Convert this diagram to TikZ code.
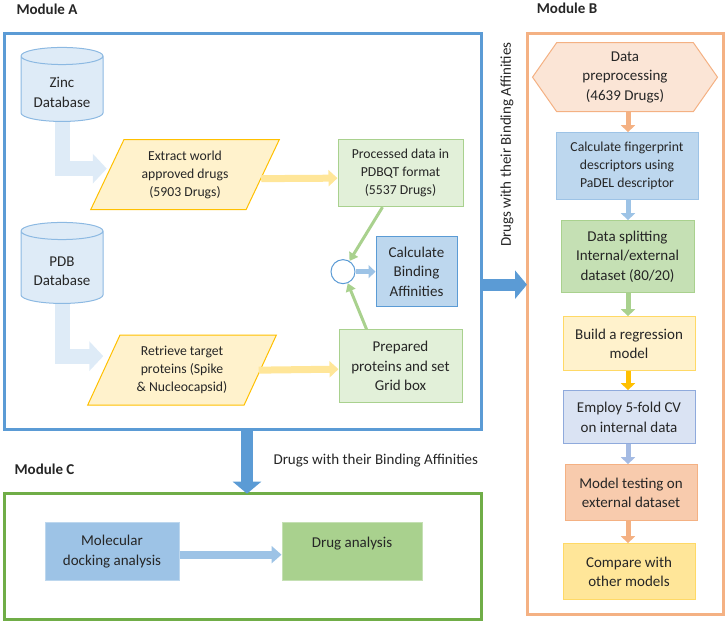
\documentclass[tikz,border=0pt]{standalone}
\usepackage{fontspec}
\setmainfont{Carlito}
\usetikzlibrary{shapes.geometric, shapes.symbols, arrows.meta, positioning}
\definecolor{modblue}{HTML}{5B9BD5}
\definecolor{modorange}{HTML}{F4B183}
\definecolor{modgreen}{HTML}{70AD47}
\definecolor{paleblue}{HTML}{DEEBF7}
\definecolor{lightblue}{HTML}{BDD7EE}
\definecolor{midblue}{HTML}{9DC3E6}
\definecolor{greyblue}{HTML}{DAE3F3}
\definecolor{slateblue}{HTML}{8FAADC}
\definecolor{palegreen}{HTML}{E2F0D9}
\definecolor{lightgreen}{HTML}{C5E0B4}
\definecolor{midgreen}{HTML}{A9D18E}
\definecolor{paleyellow}{HTML}{FFF2CC}
\definecolor{lightyellow}{HTML}{FFE699}
\definecolor{midyellow}{HTML}{FFD966}
\definecolor{goldyellow}{HTML}{FFC000}
\definecolor{paleorange}{HTML}{FBE5D6}
\definecolor{lightorange}{HTML}{F8CBAD}
\definecolor{textdark}{HTML}{262626}
\newcommand{\bodyfont}{\fontsize{15}{19.5}\selectfont}
\newcommand{\smallbody}{\fontsize{13.7}{18}\selectfont}

\begin{document}
\begin{tikzpicture}[
  x=1pt, y=-1pt,
  frame/.style={
    rectangle, draw, line width=3pt,
    inner sep=0pt, outer sep=0pt
  },
  modlabel/.style={
    font=\bodyfont\bfseries, text=textdark
  },
  database/.style={
    cylinder, shape border rotate=90, aspect=0.27,
    draw=modblue!70, fill=paleblue, line width=1pt,
    minimum width=82pt, align=center,
    font=\bodyfont, text=textdark
  },
  slanted/.style={
    trapezium, trapezium left angle=65, trapezium right angle=115,
    trapezium stretches=true,
    draw=goldyellow, fill=paleyellow, line width=1pt,
    minimum width=189pt, minimum height=70pt,
    align=center, font=\smallbody, text=textdark
  },
  stepbox/.style={
    rectangle, draw, line width=1pt, inner sep=2pt,
    align=center, font=\bodyfont, text=textdark
  },
  blockarrow/.style={
    line width=15pt, paleblue,
    -{Triangle[width=29pt, length=14pt]}
  },
  feedarrow/.style={
    line width=7pt, lightyellow,
    -{Triangle[width=16pt, length=9pt]}
  },
  joinarrow/.style={
    line width=3pt, midgreen,
    -{Triangle[width=10pt, length=8pt]}
  },
  bigarrow/.style={
    line width=12pt, modblue,
    -{Triangle[width=28pt, length=12pt]}
  },
  chain/.style={
    line width=5pt,
    -{Triangle[width=14pt, length=7pt]}
  }
]
  % frames and titles
  \node[frame, draw=modblue, minimum width=477pt, minimum height=396pt] (frameA) at (242.5,230) {};
  \node[frame, draw=modorange, minimum width=196pt, minimum height=581pt] (frameB) at (625,322.5) {};
  \node[frame, draw=modgreen, minimum width=477pt, minimum height=126pt] (frameC) at (242.5,555) {};
  \node[modlabel] (labelA) at (47,8) {Module A};
  \node[modlabel] (labelB) at (567,7) {Module B};
  \node[modlabel] (labelC) at (44.5,468) {Module C};

  % Module A
  \node[database, minimum height=74pt] (zinc) at (62,89) {\mbox{}\\[-6pt]Zinc\\Database};
  \node[database, minimum height=81pt] (pdb) at (62,267.5) {\mbox{}\\[-6pt]PDB\\Database};
  \node[slanted] (extract) at (185,173) {Extract world\\approved drugs\\(5903 Drugs)};
  \node[slanted] (retrieve) at (182,368.5) {Retrieve target\\proteins (Spike\\\& Nucleocapsid)};
  \node[stepbox, draw=midgreen, fill=palegreen, font=\smallbody,
        minimum width=125pt, minimum height=67pt] (processed) at (400.5,171.5)
        {Processed data in\\PDBQT format\\(5537 Drugs)};
  \node[stepbox, draw=midgreen, fill=palegreen,
        minimum width=123pt, minimum height=73pt] (prepared) at (400.5,364.5)
        {Prepared\\proteins and set\\Grid box};
  \node[circle, draw=modblue, fill=white, line width=1pt, minimum size=24pt] (join) at (343,270) {};
  \node[stepbox, draw=modblue, fill=lightblue,
        minimum width=81pt, minimum height=70pt] (calcba) at (416.5,270)
        {Calculate\\Binding\\Affinities};

  \draw[blockarrow] (zinc.south) |- ([yshift=6pt]extract.west);
  \draw[blockarrow] (pdb.south) |- ([yshift=14pt]retrieve.west);
  \draw[feedarrow] ([xshift=-2pt,yshift=-4pt]extract.east) -- ([yshift=-5pt]processed.west);
  \draw[feedarrow] ([xshift=-2pt]retrieve.east) -- ([yshift=-3pt]prepared.west);
  \draw[joinarrow] ([xshift=-18pt]processed.south) -- (join);
  \draw[joinarrow] ([xshift=-34pt]prepared.north) -- (join);
  \draw[line width=5pt, midblue, -{Triangle[width=13pt, length=7pt]}] (join) -- (calcba);

  % Module B
  \node[signal, signal to=east and west, signal pointer angle=110,
        draw=modorange, fill=paleorange, line width=1pt,
        minimum width=185pt, minimum height=69pt,
        align=center, font=\bodyfont, text=textdark] (prep) at (625,75.5)
        {Data\\preprocessing\\(4639 Drugs)};
  \node[stepbox, draw=midblue, fill=lightblue, font=\smallbody,
        minimum width=142pt, minimum height=67pt] (finger) at (627,164.5)
        {Calculate fingerprint\\descriptors using\\PaDEL descriptor};
  \node[stepbox, draw=midgreen, fill=lightgreen,
        minimum width=133pt, minimum height=72pt] (split) at (627.5,255)
        {Data splitting\\Internal/external\\dataset (80/20)};
  \node[stepbox, draw=midyellow, fill=paleyellow,
        minimum width=132pt, minimum height=54pt] (regress) at (629,342)
        {Build a regression\\model};
  \node[stepbox, draw=slateblue, fill=greyblue,
        minimum width=132pt, minimum height=53pt] (employ) at (629,415.5)
        {Employ 5-fold CV\\on internal data};
  \node[stepbox, draw=modorange, fill=lightorange,
        minimum width=132pt, minimum height=56pt] (testing) at (631,491)
        {Model testing on\\external dataset};
  \node[stepbox, draw=midyellow, fill=lightyellow,
        minimum width=132pt, minimum height=56pt] (compare) at (629,570)
        {Compare with\\other models};

  \draw[chain, modorange] (prep.south -| 628,0) -- (finger.north -| 628,0);
  \draw[chain, midblue] (finger.south -| 628,0) -- (split.north -| 628,0);
  \draw[chain, midgreen] (split.south -| 628,0) -- (regress.north -| 628,0);
  \draw[chain, goldyellow] (regress.south -| 628,0) -- (employ.north -| 628,0);
  \draw[chain, slateblue!80] (employ.south -| 628,0) -- (testing.north -| 628,0);
  \draw[chain, modorange] (testing.south -| 628,0) -- (compare.north -| 628,0);

  % links between modules
  \draw[bigarrow] ([yshift=-53pt]frameA.east) -- ([yshift=39.5pt]frameB.west);
  \node[rotate=90, font=\bodyfont, text=textdark] (linkB) at (507,143) {Drugs with their Binding Affinities};
  \draw[bigarrow] ([xshift=4.5pt]frameA.south) -- ([xshift=4.5pt]frameC.north);
  \node[anchor=west, font=\bodyfont, text=textdark] (linkC) at (270,459) {Drugs with their Binding Affinities};

  % Module C
  \node[stepbox, draw=lightblue, fill=midblue,
        minimum width=134pt, minimum height=58pt] (docking) at (112,550)
        {Molecular\\docking analysis};
  \node[stepbox, draw=lightgreen, fill=midgreen,
        minimum width=140pt, minimum height=58pt] (druga) at (352,550)
        {Drug analysis\\\mbox{}};
  \draw[line width=8pt, midblue, -{Triangle[width=17pt, length=10pt]}] ([yshift=-3pt]docking.east) -- ([yshift=-3pt]druga.west);

  \useasboundingbox (0,0) rectangle (727,622);
\end{tikzpicture}
\end{document}
